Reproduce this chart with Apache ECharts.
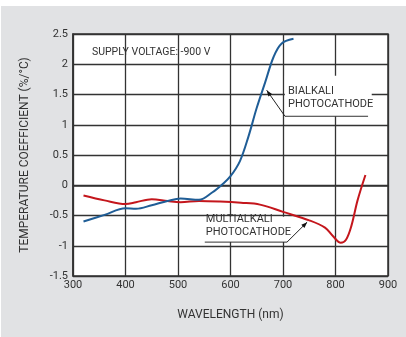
<!DOCTYPE html>
<html>
<head>
<meta charset="utf-8">
<script src="https://cdn.jsdelivr.net/npm/echarts@6/dist/echarts.min.js"></script>
<style>
  html, body { margin: 0; padding: 0; background: #ffffff; }
  #panel { position: absolute; left: 1px; top: 6px; width: 405px; height: 331px; background: #e1e2e4; }
  #chart { position: absolute; left: 0; top: 0; width: 406px; height: 337px; }
</style>
</head>
<body>
<div id="panel"></div>
<div id="chart"></div>
<script>
// Wavelength ticks (nm) and temperature coefficient ticks (%/°C)
const xTicks = [300, 400, 500, 600, 700, 800, 900];
const yTicks = [-1.5, -1, -0.5, 0, 0.5, 1, 1.5, 2, 2.5];

// Bialkali photocathode: [wavelength, coefficient]
const bialkaliWl = [320, 360, 400, 420, 450, 480, 505, 540, 565, 585, 600, 618, 634, 650, 666, 682, 697, 720];
const bialkaliTc = [-0.60, -0.49, -0.38, -0.39, -0.33, -0.26, -0.22, -0.24, -0.12, 0.02, 0.15, 0.40, 0.80, 1.28, 1.70, 2.12, 2.34, 2.42];

// Multialkali photocathode: [wavelength, coefficient]
const multialkaliWl = [320, 360, 400, 420, 450, 480, 505, 540, 580, 620, 656, 700, 750, 780, 795, 810, 820, 830, 842, 857];
const multialkaliTc = [-0.17, -0.25, -0.31, -0.28, -0.23, -0.26, -0.28, -0.26, -0.27, -0.29, -0.32, -0.44, -0.58, -0.70, -0.84, -0.95, -0.90, -0.68, -0.25, 0.17];

const zip = (a, b) => a.map((v, i) => [v, b[i]]);

const FONT = 'Roboto, "Noto Sans", sans-serif';
const GRID_COLOR = '#333333';

const chart = echarts.init(document.getElementById('chart'));

chart.setOption({
  backgroundColor: 'transparent',
  animation: false,
  grid: {
    left: 73, right: 18, top: 34, bottom: 61,
    show: true, backgroundColor: '#ffffff',
    borderColor: GRID_COLOR, borderWidth: 1.5
  },
  xAxis: {
    type: 'value',
    min: xTicks[0], max: xTicks[xTicks.length - 1],
    interval: xTicks[1] - xTicks[0],
    name: 'WAVELENGTH (nm)',
    nameLocation: 'middle', nameGap: 33,
    nameTextStyle: { fontFamily: FONT, fontSize: 12, color: '#333' },
    axisLine: { lineStyle: { color: GRID_COLOR, width: 1.5 } },
    axisTick: { show: false },
    axisLabel: { fontFamily: FONT, fontSize: 11, color: '#333', margin: 4 },
    splitLine: { show: true, lineStyle: { color: GRID_COLOR, width: 1.3 } }
  },
  yAxis: {
    type: 'value',
    min: yTicks[0], max: yTicks[yTicks.length - 1],
    interval: yTicks[1] - yTicks[0],
    name: 'TEMPERATURE COEFFICIENT (%/°C)',
    nameLocation: 'middle', nameGap: 42, nameRotate: 90,
    nameTextStyle: { fontFamily: FONT, fontSize: 12, color: '#333' },
    axisLine: { show: true, lineStyle: { color: GRID_COLOR, width: 1.5 } },
    axisTick: { show: false },
    axisLabel: { fontFamily: FONT, fontSize: 11, color: '#333', margin: 5 },
    splitLine: { show: true, lineStyle: { color: GRID_COLOR, width: 1.3 } }
  },
  series: [
    {
      name: 'BIALKALI', type: 'line', smooth: 0.35, symbol: 'none', z: 5,
      lineStyle: { color: '#1f5d96', width: 2 },
      data: zip(bialkaliWl, bialkaliTc)
    },
    {
      name: 'MULTIALKALI', type: 'line', smooth: 0.35, symbol: 'none', z: 4,
      lineStyle: { color: '#c4161c', width: 2 },
      data: zip(multialkaliWl, multialkaliTc)
    }
  ]
});

// Callout labels, placed in data space: text box corner, underline end and arrow tip
const callouts = [
  { lines: ['BIALKALI', 'PHOTOCATHODE'], box: [[703.5, 1.81], [869, 1.14]],
    textAt: [709.5, 1.56], under: [[703.8, 1.14], [862, 1.14]], tip: [669, 1.57] },
  { lines: ['MULTIALKALI', 'PHOTOCATHODE'], box: [[550, -0.52], [710, -0.94]],
    textAt: [553, -0.56], under: [[551, -0.94], [707.6, -0.94]], tip: [746, -0.61] }
];

const px = p => chart.convertToPixel({ gridIndex: 0 }, p);
const elements = [];

callouts.forEach(c => {
  const b0 = px(c.box[0]), b1 = px(c.box[1]);
  elements.push({
    type: 'rect', z: 3,
    shape: { x: b0[0], y: b0[1], width: b1[0] - b0[0], height: b1[1] - b0[1] },
    style: { fill: '#ffffff' }
  });
  const t = px(c.textAt);
  c.lines.forEach((line, i) => {
    elements.push({
      type: 'text', z: 6, x: t[0], y: t[1] + i * 13,
      style: { text: line, font: '11px ' + FONT, fill: '#333', textVerticalAlign: 'middle' }
    });
  });
  const u0 = px(c.under[0]), u1 = px(c.under[1]);
  elements.push({
    type: 'line', z: 6,
    shape: { x1: u0[0], y1: u0[1], x2: u1[0], y2: u1[1] },
    style: { stroke: '#333', lineWidth: 1 }
  });
  // leader from the underline's near end to the curve
  const start = c.tip[0] < c.under[0][0] ? u0 : u1;
  const tip = px(c.tip);
  elements.push({
    type: 'line', z: 6,
    shape: { x1: start[0], y1: start[1], x2: tip[0], y2: tip[1] },
    style: { stroke: '#222', lineWidth: 1 }
  });
  const ang = Math.atan2(tip[1] - start[1], tip[0] - start[0]);
  const len = 6, half = 2.2;
  const bx = tip[0] - len * Math.cos(ang), by = tip[1] - len * Math.sin(ang);
  elements.push({
    type: 'polygon', z: 6,
    shape: { points: [
      tip,
      [bx + half * Math.sin(ang), by - half * Math.cos(ang)],
      [bx - half * Math.sin(ang), by + half * Math.cos(ang)]
    ] },
    style: { fill: '#111' }
  });
});

const sv = px([336, 2.2]);
elements.push({
  type: 'text', z: 6, x: sv[0], y: sv[1],
  style: { text: 'SUPPLY VOLTAGE: -900 V', font: '10.5px ' + FONT, fill: '#333', textVerticalAlign: 'middle' }
});

chart.setOption({ graphic: { elements } });
</script>
</body>
</html>
